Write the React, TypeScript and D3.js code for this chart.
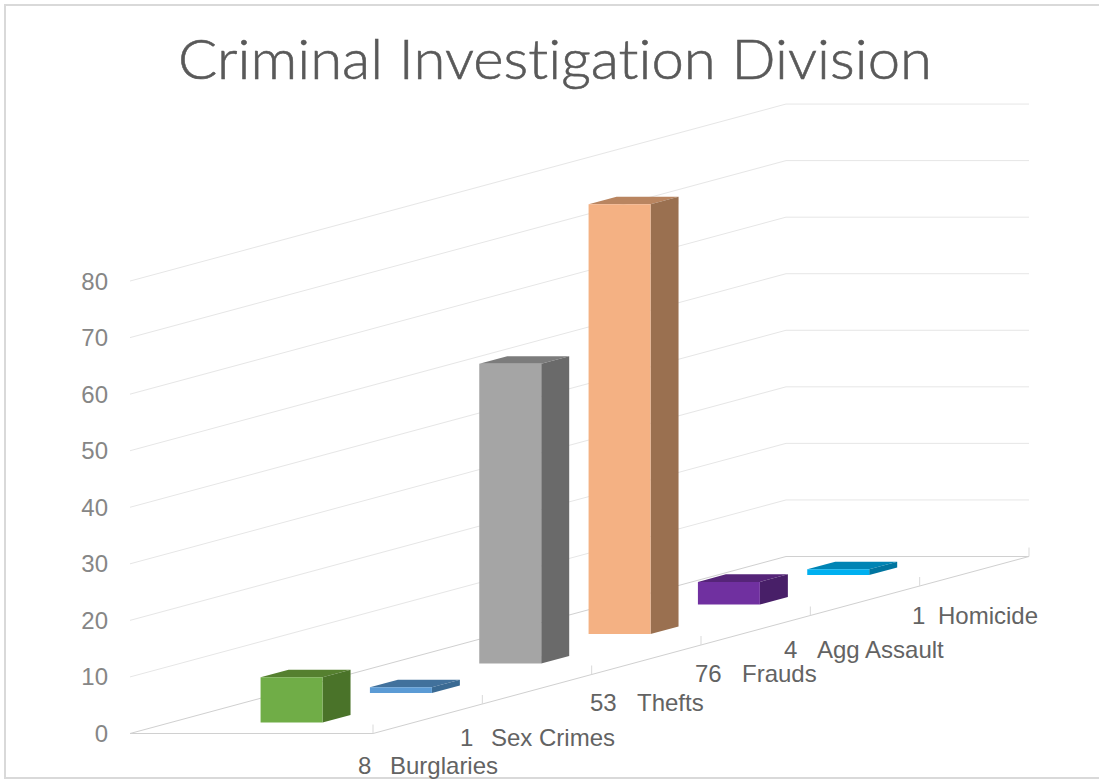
import React from "react";
import * as d3 from "d3";

const categories = ["Burglaries", "Sex Crimes", "Thefts", "Frauds", "Agg Assault", "Homicide"];
const values = [8, 1, 53, 76, 4, 1];
const frontColors = ["#70AD47", "#5B9BD5", "#A5A5A5", "#F4B183", "#7030A0", "#00B0F0"];
const topColors = ["#55802F", "#41719C", "#7C7C7C", "#B98560", "#552478", "#0084B4"];
const sideColors = ["#4A7329", "#3A6A93", "#6A6A6A", "#9A7050", "#481F68", "#0075A0"];
const ticks = [0, 10, 20, 30, 40, 50, 60, 70, 80];
const labelPositions = [
  { num: 358, text: 390, y: 774 },
  { num: 460, text: 491, y: 746 },
  { num: 590, text: 637, y: 711 },
  { num: 695, text: 742, y: 682 },
  { num: 784, text: 817, y: 658 },
  { num: 912, text: 938, y: 624 },
];

const yScale = d3.scaleLinear().domain([0, 90]).range([0, 509]);
const depthScale = d3.scaleLinear().domain([0, 1]).range([0, 243]);
const catX = d3.scaleLinear().domain([0, 1]).range([0, 656]);
const catY = d3.scaleLinear().domain([0, 1]).range([0, 177]);
const band = d3.scaleBand<string>().domain(categories).range([0, 1]);

const ORIGIN = { x: 130, y: 733.5 };
const project = (a: number, b: number, v: number): [number, number] => [
  ORIGIN.x + depthScale(a) + catX(b),
  ORIGIN.y - catY(b) - yScale(v),
];
const poly = (pts: [number, number][]) => pts.map((p) => p.join(",")).join(" ");
const line = d3.line<[number, number]>();

export default function App() {
  const barDepth = band.bandwidth() * 0.256;
  const a0 = 0.37;
  const a1 = 0.625;
  return (
    <svg
      width={1099}
      height={779}
      style={{ position: "absolute", left: 0, top: 0, background: "#fff" }}
    >
      <rect x={5} y={5} width={1130} height={773} fill="none" stroke="#D9D9D9" strokeWidth={2} />
      <text
        x={178}
        y={79}
        fontFamily="Lato, 'Open Sans', sans-serif"
        fontWeight={300}
        fontSize={56}
        fill="#595959"
        stroke="#595959"
        strokeWidth={0.6}
        textLength={754}
        lengthAdjust="spacingAndGlyphs"
        style={{ fontVariantLigatures: "none" }}
      >
        Criminal Investigation Division
      </text>
      {ticks.map((t) => (
        <g key={t}>
          <path
            d={line([project(0, 0, t), project(0, 1, t), project(1, 1, t)]) ?? ""}
            fill="none"
            stroke={t === 0 ? "#D0D0D0" : "#E6E6E6"}
            strokeWidth={1}
          />
          <text
            x={108}
            y={project(0, 0, t)[1] + 8.5}
            textAnchor="end"
            fontFamily="'Liberation Sans', Arial, sans-serif"
            fontSize={24}
            fill="#868686"
          >
            {t}
          </text>
        </g>
      ))}
      <path
        d={line([project(0, 0, 0), project(1, 0, 0), project(1, 1, 0)]) ?? ""}
        fill="none"
        stroke="#D0D0D0"
        strokeWidth={1}
      />
      {d3.range(0, categories.length + 1).map((i) => {
        const b = i / categories.length;
        const p = project(1, b, 0);
        return <line key={i} x1={p[0]} y1={p[1]} x2={p[0]} y2={p[1] - 9} stroke="#D9D9D9" strokeWidth={1} />;
      })}
      {categories.map((c, i) => {
        const b0 = (band(c) ?? 0) + (band.bandwidth() - barDepth) / 2;
        const b1 = b0 + barDepth;
        const v = values[i];
        return (
          <g key={c}>
            <polygon
              points={poly([project(a0, b0, v), project(a1, b0, v), project(a1, b1, v), project(a0, b1, v)])}
              fill={topColors[i]}
            />
            <polygon
              points={poly([project(a1, b0, 0), project(a1, b1, 0), project(a1, b1, v), project(a1, b0, v)])}
              fill={sideColors[i]}
            />
            <polygon
              points={poly([project(a0, b0, 0), project(a1, b0, 0), project(a1, b0, v), project(a0, b0, v)])}
              fill={frontColors[i]}
            />
          </g>
        );
      })}
      {categories.map((c, i) => (
        <g
          key={c}
          fontFamily="'Liberation Sans', Arial, sans-serif"
          fontSize={24}
          fill="#636363"
        >
          <text x={labelPositions[i].num} y={labelPositions[i].y}>{values[i]}</text>
          <text x={labelPositions[i].text} y={labelPositions[i].y}>{c}</text>
        </g>
      ))}
    </svg>
  );
}
